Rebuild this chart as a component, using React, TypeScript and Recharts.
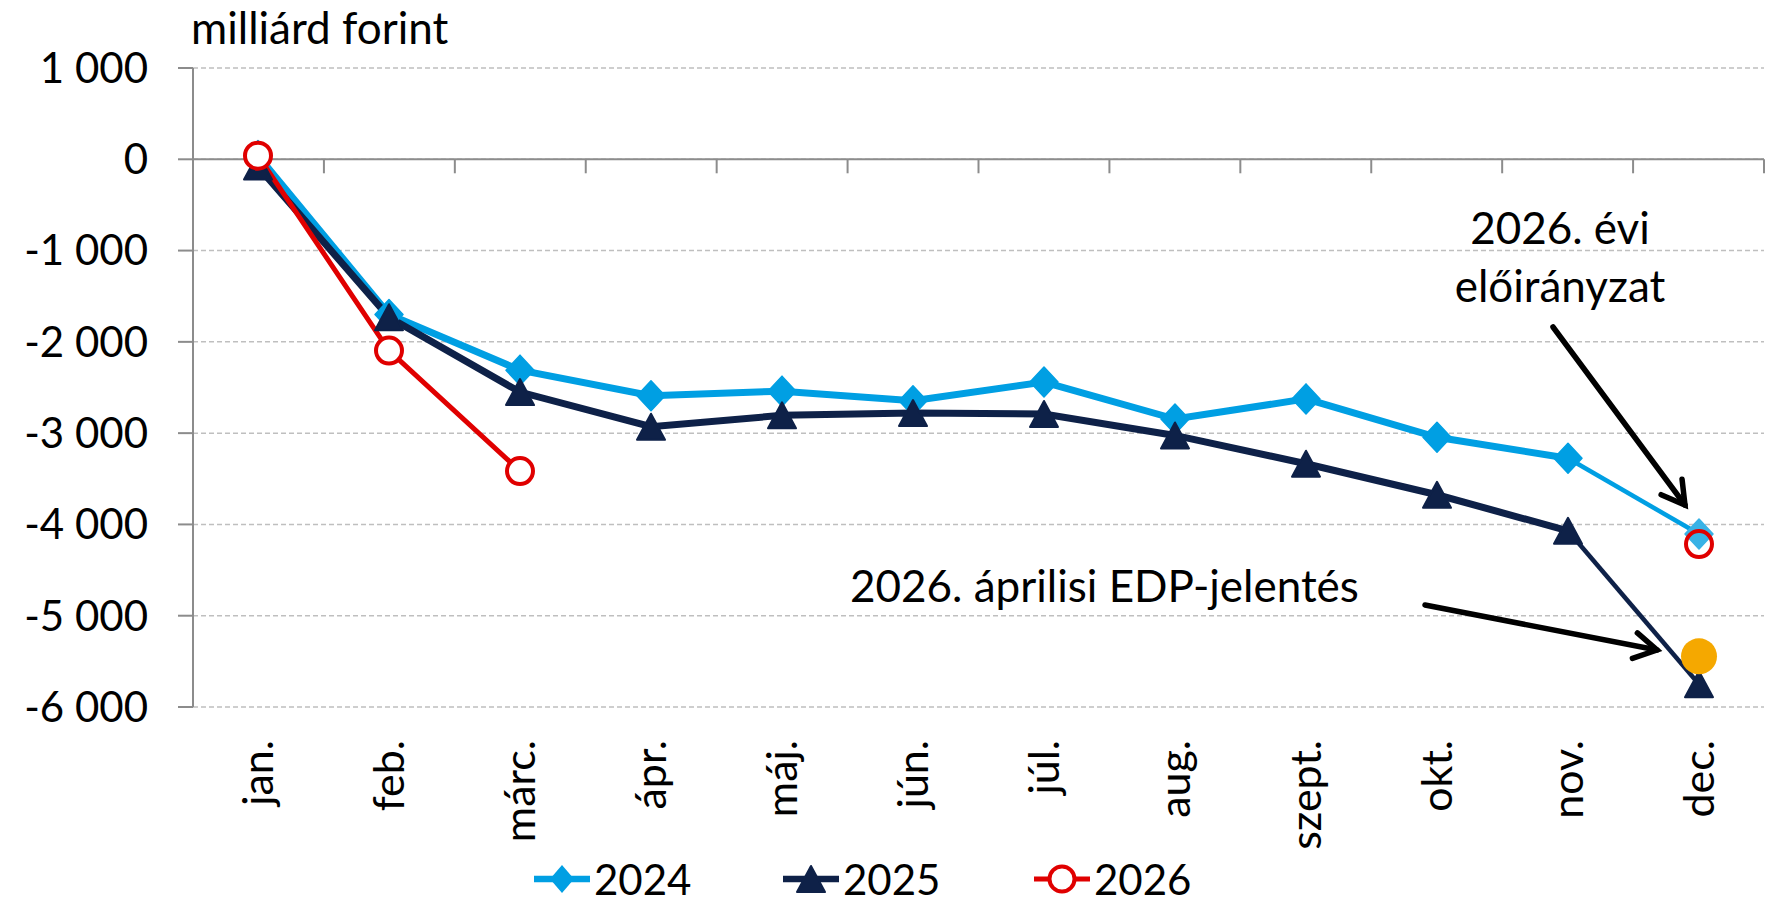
import React from 'react'
import {
  LineChart,
  Line,
  XAxis,
  YAxis,
  CartesianGrid,
  ReferenceLine,
  Legend,
} from 'recharts'

// Havi kumulált egyenleg, milliárd forint
const months = ['jan.', 'feb.', 'márc.', 'ápr.', 'máj.', 'jún.', 'júl.', 'aug.', 'szept.', 'okt.', 'nov.', 'dec.']
const y2024 = [40, -1700, -2310, -2590, -2540, -2645, -2440, -2845, -2625, -3045, -3275, null]
const y2024Tail = [null, null, null, null, null, null, null, null, null, null, -3275, -4105]
const y2025 = [-80, -1730, -2550, -2930, -2805, -2780, -2790, -3025, -3335, -3675, -4070, null]
const y2025Tail = [null, null, null, null, null, null, null, null, null, null, -4070, -5750]
const y2026 = [40, -2095, -3415, null, null, null, null, null, null, null, null, null]
const plan2026 = [null, null, null, null, null, null, null, null, null, null, null, -4215]
const edpApril = [null, null, null, null, null, null, null, null, null, null, null, -5445]
const yTicks = [1000, 0, -1000, -2000, -3000, -4000, -5000, -6000]

const BLUE = '#009FE3'
const BLUE_LIGHT = '#38B2E6'
const NAVY = '#0E2148'
const RED = '#E00000'
const ORANGE = '#F5A800'
const FONT = 'Lato, "Open Sans", sans-serif'

const data = months.map((month, i) => ({
  month,
  y2024: y2024[i],
  y2024Tail: y2024Tail[i],
  y2025: y2025[i],
  y2025Tail: y2025Tail[i],
  y2026: y2026[i],
  plan2026: plan2026[i],
  edpApril: edpApril[i],
}))

const fmt = (v: number) => {
  const s = Math.abs(v).toString().replace(/\B(?=(\d{3})+(?!\d))/g, ' ')
  return v < 0 ? '-' + s : s
}

const diamondPts = (cx: number, cy: number, w = 14, h = 15) =>
  `${cx},${cy - h} ${cx + w},${cy} ${cx},${cy + h} ${cx - w},${cy}`
const trianglePts = (cx: number, cy: number) =>
  `${cx},${cy - 13} ${cx + 14},${cy + 13} ${cx - 14},${cy + 13}`

function makeDot(kind: string, color: string, onlyLast = false) {
  return (p: any) => {
    const { cx, cy, index } = p
    const key = `${kind}-${index}`
    if (cx == null || cy == null || (onlyLast && index !== months.length - 1)) return <g key={key} />
    if (kind === 'diamond')
      return <polygon key={key} points={diamondPts(cx, cy)} fill={color} stroke={color} strokeWidth={1.5} strokeLinejoin="round" />
    if (kind === 'triangle')
      return <polygon key={key} points={trianglePts(cx, cy)} fill={color} stroke={color} strokeWidth={2} strokeLinejoin="round" />
    if (kind === 'ring')
      return <circle key={key} cx={cx} cy={cy} r={13} fill="white" stroke={color} strokeWidth={4} />
    if (kind === 'openRing')
      return <circle key={key} cx={cx} cy={cy} r={13} fill="none" stroke={color} strokeWidth={4} />
    return <circle key={key} cx={cx} cy={cy} r={18} fill={color} />
  }
}

function MonthTick({ x, y, payload }: any) {
  return (
    <text
      x={x}
      y={y + 33}
      transform={`rotate(-90 ${x} ${y + 33})`}
      textAnchor="end"
      dy="0.36em"
      fontFamily={FONT}
      fontSize={43}
      fill="#000"
    >
      {payload.value}
    </text>
  )
}

// y=0 tengely a kategóriahatárokon lefelé mutató osztásokkal
function ZeroAxis(props: any) {
  const { x1, x2, y1 } = props
  const left = Math.min(x1, x2)
  const right = Math.max(x1, x2)
  const step = (right - left) / months.length
  return (
    <g>
      <line x1={left} x2={right} y1={y1} y2={y1} stroke="#8C8C8C" strokeWidth={2} />
      {months.map((_, i) => (
        <line key={i} x1={left + (i + 1) * step} x2={left + (i + 1) * step} y1={y1} y2={y1 + 14} stroke="#8C8C8C" strokeWidth={2} />
      ))}
    </g>
  )
}

const legendItems = [
  { name: '2024', color: BLUE, kind: 'diamond', width: 6.5, left: 534 },
  { name: '2025', color: NAVY, kind: 'triangle', width: 6.5, left: 783 },
  { name: '2026', color: RED, kind: 'ring', width: 5, left: 1034 },
]

function LegendContent() {
  return (
    <div style={{ position: 'relative', width: 1778, height: 44 }}>
      {legendItems.map((it) => (
        <div key={it.name} style={{ position: 'absolute', left: it.left, top: 0, height: 44, display: 'flex', alignItems: 'center' }}>
          <svg width={56} height={44}>
            <line x1={0} x2={56} y1={22} y2={22} stroke={it.color} strokeWidth={it.width} />
            {it.kind === 'diamond' && <polygon points={diamondPts(28, 22, 12, 14)} fill={it.color} />}
            {it.kind === 'triangle' && <polygon points={trianglePts(28, 22)} fill={it.color} strokeLinejoin="round" stroke={it.color} strokeWidth={2} />}
            {it.kind === 'ring' && <circle cx={28} cy={22} r={12.5} fill="white" stroke={it.color} strokeWidth={4} />}
          </svg>
          <span style={{ fontFamily: FONT, fontSize: 42, color: '#000', marginLeft: 4, lineHeight: '44px' }}>{it.name}</span>
        </div>
      ))}
    </div>
  )
}

function Arrow({ x1, y1, x2, y2 }: { x1: number; y1: number; x2: number; y2: number }) {
  const ang = Math.atan2(y2 - y1, x2 - x1)
  const len = 26
  const a1 = ang + Math.PI - Math.PI / 6
  const a2 = ang + Math.PI + Math.PI / 6
  return (
    <g stroke="#000" strokeWidth={5.5} strokeLinecap="round" fill="none">
      <line x1={x1} y1={y1} x2={x2} y2={y2} />
      <polyline
        points={`${x2 + len * Math.cos(a1)},${y2 + len * Math.sin(a1)} ${x2},${y2} ${x2 + len * Math.cos(a2)},${y2 + len * Math.sin(a2)}`}
        strokeLinejoin="miter"
      />
    </g>
  )
}

export default function App() {
  return (
    <div style={{ position: 'absolute', left: 0, top: 0, width: 1778, height: 901, background: '#fff', fontFamily: FONT }}>
      <LineChart width={1778} height={901} data={data} margin={{ top: 68, right: 14, left: 0, bottom: 0 }}>
        <CartesianGrid horizontal vertical={false} stroke="#BFBFBF" strokeWidth={1.5} strokeDasharray="5 3" />
        <XAxis
          dataKey="month"
          interval={0}
          axisLine={false}
          tickLine={false}
          tickSize={0}
          tickMargin={0}
          height={150}
          padding={{ left: 65, right: 65 }}
          tick={<MonthTick />}
        />
        <YAxis
          width={193}
          domain={[-6000, 1000]}
          ticks={yTicks}
          tickFormatter={fmt}
          axisLine={{ stroke: '#8C8C8C', strokeWidth: 2 }}
          tickLine={{ stroke: '#8C8C8C', strokeWidth: 2 }}
          tickSize={15}
          tickMargin={30}
          tick={{ fontFamily: FONT, fontSize: 42, fill: '#000' }}
        />
        <ReferenceLine y={0} shape={<ZeroAxis />} />
        <Legend verticalAlign="bottom" height={44} content={<LegendContent />} wrapperStyle={{ left: 0, width: 1778 }} />
        <Line dataKey="y2024" name="2024" stroke={BLUE} strokeWidth={7} dot={makeDot('diamond', BLUE)} activeDot={false} isAnimationActive={false} legendType="none" />
        <Line dataKey="y2024Tail" stroke={BLUE} strokeWidth={4.5} dot={makeDot('diamond', BLUE_LIGHT, true)} activeDot={false} isAnimationActive={false} legendType="none" />
        <Line dataKey="y2025" name="2025" stroke={NAVY} strokeWidth={7} dot={makeDot('triangle', NAVY)} activeDot={false} isAnimationActive={false} legendType="none" />
        <Line dataKey="y2025Tail" stroke={NAVY} strokeWidth={4.5} dot={makeDot('triangle', NAVY, true)} activeDot={false} isAnimationActive={false} legendType="none" />
        <Line dataKey="y2026" name="2026" stroke={RED} strokeWidth={5} dot={makeDot('ring', RED)} activeDot={false} isAnimationActive={false} legendType="none" />
        <Line dataKey="plan2026" stroke="none" dot={makeDot('openRing', RED)} activeDot={false} isAnimationActive={false} legendType="none" />
        <Line dataKey="edpApril" stroke="none" dot={makeDot('filled', ORANGE)} activeDot={false} isAnimationActive={false} legendType="none" />
      </LineChart>
      <svg width={1778} height={901} style={{ position: 'absolute', left: 0, top: 0, pointerEvents: 'none' }}>
        <text x={191} y={44} fontFamily={FONT} fontSize={44} fill="#000">milliárd forint</text>
        <text x={1560} y={244} textAnchor="middle" fontFamily={FONT} fontSize={44} fill="#000">2026. évi</text>
        <text x={1560} y={302} textAnchor="middle" fontFamily={FONT} fontSize={44} fill="#000">előirányzat</text>
        <Arrow x1={1553} y1={327} x2={1685} y2={505} />
        <text x={850} y={602} fontFamily={FONT} fontSize={44} fill="#000">2026. áprilisi EDP-jelentés</text>
        <Arrow x1={1425} y1={605} x2={1657} y2={650} />
      </svg>
    </div>
  )
}
